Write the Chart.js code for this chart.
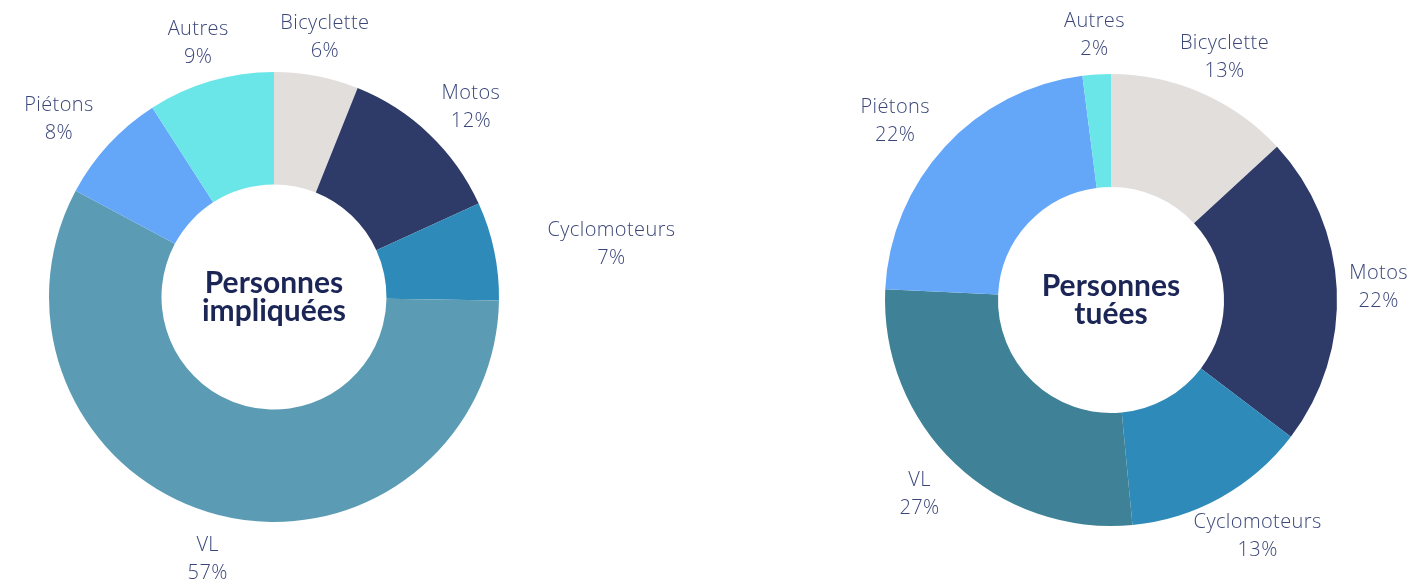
<!DOCTYPE html>
<html lang="fr">
<head>
<meta charset="utf-8">
<script src="https://cdn.jsdelivr.net/npm/chart.js@4"></script>
<style>
  html, body { margin: 0; padding: 0; background: #fff; }
  body { width: 1410px; height: 580px; position: relative; overflow: hidden; }
  .bloc { position: absolute; top: 0; left: 0; width: 1410px; height: 580px; }
</style>
</head>
<body>
<div class="bloc"><canvas id="graphImpliquees"></canvas></div>
<div class="bloc"><canvas id="graphTuees"></canvas></div>
<script>
const categories = ['Bicyclette', 'Motos', 'Cyclomoteurs', 'VL', 'Piétons', 'Autres'];
const impliquees = [6, 12, 7, 57, 8, 9];
const tuees = [13, 22, 13, 27, 22, 2];
const couleursImpliquees = ['#e2dedc', '#2e3a67', '#2e8bb9', '#5b9cb4', '#64a6f8', '#6be6e8'];
const couleursTuees = ['#e2dedc', '#2e3a67', '#2e8bb9', '#3f8298', '#64a6f8', '#6be6e8'];

const couleurTexte = '#3a4679';
const policeLabel = '300 20px "Open Sans", "Noto Sans", sans-serif';

// Etiquettes autour de l'anneau + titre au centre
const etiquettesPlugin = {
    id: 'etiquettes',
    afterDraw(chart, args, opts) {
        const ctx = chart.ctx;
        const arcs = chart.getDatasetMeta(0).data;
        const valeurs = chart.data.datasets[0].data;
        ctx.save();
        ctx.font = policeLabel;
        ctx.letterSpacing = '0.4px';
        ctx.fillStyle = couleurTexte;
        ctx.textAlign = 'center';
        ctx.textBaseline = 'middle';
        arcs.forEach((arc, i) => {
            const { x, y, startAngle, endAngle, outerRadius } = arc.getProps(['x', 'y', 'startAngle', 'endAngle', 'outerRadius'], true);
            const mid = (startAngle + endAngle) / 2;
            const c = Math.cos(mid);
            const s = Math.sin(mid);
            const r = outerRadius + 32;
            const lignes = [chart.data.labels[i], valeurs[i] + '%'];
            const w = Math.max(...lignes.map(l => ctx.measureText(l).width));
            const h = 56;
            let bx = x + c * r + c * Math.abs(c) * w * 0.7;
            bx = Math.min(Math.max(bx, w / 2 + 2), chart.width - w / 2 - 2);
            const by = y + s * r + s * Math.abs(s) * h * (s < 0 ? 0.13 : 0.25);
            ctx.fillText(lignes[0], bx, by - 14);
            ctx.fillText(lignes[1], bx, by + 14);
        });
        // titre central
        const centre = arcs[0];
        ctx.letterSpacing = '0px';
        ctx.font = 'bold 30px Lato, "Noto Sans", sans-serif';
        ctx.fillStyle = '#1b2656';
        ctx.fillText(opts.titre[0], centre.x, centre.y - 14);
        ctx.fillText(opts.titre[1], centre.x, centre.y + 14);
        ctx.restore();
    }
};

function creerAnneau(id, valeurs, couleurs, titre, padding) {
    const ctx = document.getElementById(id).getContext('2d');
    return new Chart(ctx, {
        type: 'doughnut',
        data: {
            labels: categories,
            datasets: [{
                data: valeurs,
                backgroundColor: couleurs,
                borderWidth: 0,
                hoverOffset: 0
            }]
        },
        options: {
            responsive: true,
            maintainAspectRatio: false,
            animation: false,
            cutout: '50%',
            layout: { padding: padding },
            plugins: {
                legend: { display: false },
                tooltip: { enabled: false },
                etiquettes: { titre: titre }
            }
        },
        plugins: [etiquettesPlugin]
    });
}

creerAnneau('graphImpliquees', impliquees, couleursImpliquees, ['Personnes', 'impliquées'],
    { top: 72, bottom: 58, left: 49, right: 911 });
creerAnneau('graphTuees', tuees, couleursTuees, ['Personnes', 'tuées'],
    { top: 74, bottom: 54, left: 885, right: 73 });
</script>
</body>
</html>
